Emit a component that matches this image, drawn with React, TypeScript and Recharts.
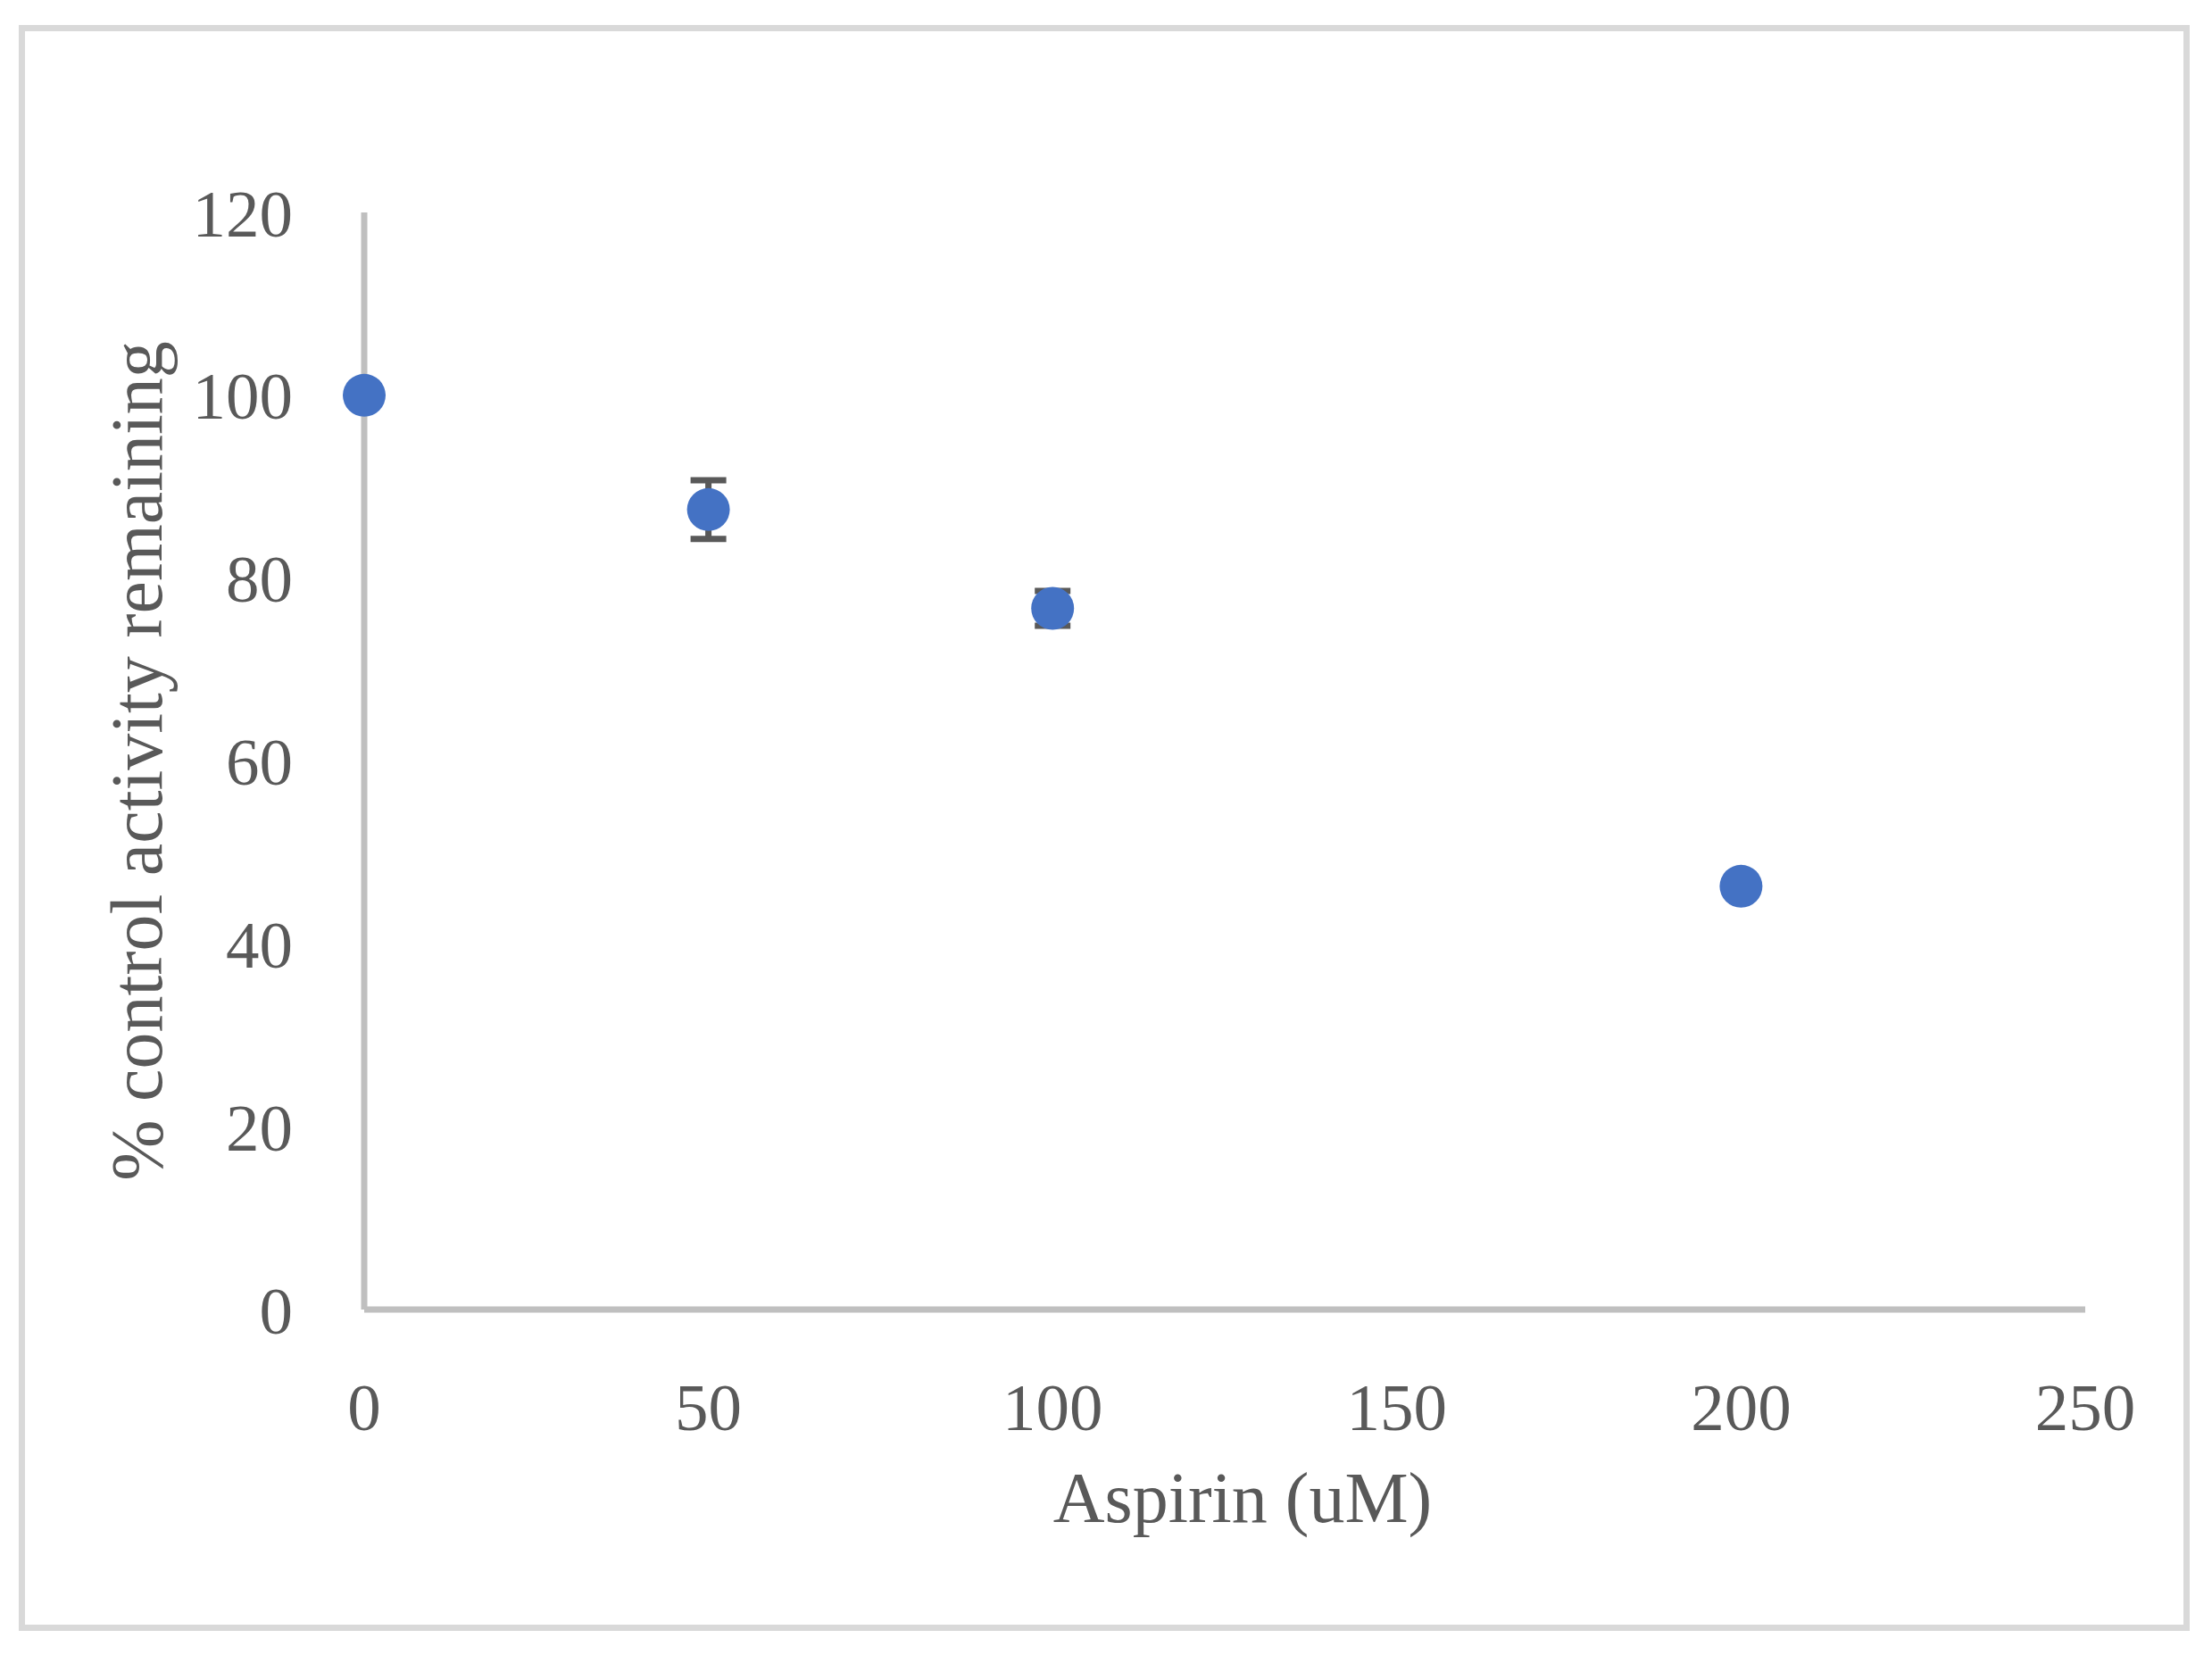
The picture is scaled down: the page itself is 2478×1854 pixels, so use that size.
import { ScatterChart, Scatter, XAxis, YAxis, ErrorBar } from 'recharts'

const aspirinUM = [0, 50, 100, 200]
const activityPct = [100, 87.5, 76.7, 46.3]
const errorPct = [0, 3.2, 1.9, 0]
const xTicks = [0, 50, 100, 150, 200, 250]
const yTicks = [0, 20, 40, 60, 80, 100, 120]

const data = aspirinUM.map((x, i) => ({ x, y: activityPct[i], err: errorPct[i] }))

const TEXT = '#595959'
const AXIS = '#bfbfbf'
const DOT = '#4472c4'
const FONT = '"Liberation Serif", "DejaVu Serif", serif'

const Dot = (props: any) => <circle cx={props.cx} cy={props.cy} r={24} fill={DOT} />

export default function App() {
  return (
    <div style={{ position: 'fixed', left: 0, top: 0, width: 2478, height: 1854, background: '#fff' }}>
      <div
        style={{
          position: 'absolute',
          left: 21,
          top: 28,
          width: 2432,
          height: 1799,
          boxSizing: 'border-box',
          border: '7px solid #d9d9d9',
        }}
      />
      <div style={{ position: 'absolute', left: 0, top: 0 }}>
        <ScatterChart width={2478} height={1854} margin={{ top: 238, right: 142, bottom: 0, left: 0 }}>
          <XAxis
            type="number"
            dataKey="x"
            domain={[0, 250]}
            ticks={xTicks}
            height={387}
            axisLine={{ stroke: AXIS, strokeWidth: 7 }}
            tickLine={false}
            tickSize={0}
            tickMargin={82}
            tick={{ fontSize: 75, fill: TEXT, fontFamily: FONT }}
            label={(p: any) => {
              const vb = p.viewBox
              return (
                <text
                  x={vb.x + vb.width / 2 + 20}
                  y={1705}
                  textAnchor="middle"
                  fontSize={80}
                  fill={TEXT}
                  fontFamily={FONT}
                >
                  Aspirin (uM)
                </text>
              )
            }}
          />
          <YAxis
            type="number"
            dataKey="y"
            domain={[0, 120]}
            ticks={yTicks}
            width={408}
            axisLine={{ stroke: AXIS, strokeWidth: 7 }}
            tickLine={false}
            tickSize={0}
            tickMargin={80}
            tick={{ fontSize: 75, fill: TEXT, fontFamily: FONT }}
            label={(p: any) => {
              const vb = p.viewBox
              const cy = vb.y + vb.height / 2
              return (
                <text
                  x={153}
                  y={cy}
                  transform={`rotate(-90 153 ${cy})`}
                  textAnchor="middle"
                  dominantBaseline="central"
                  fontSize={82}
                  fill={TEXT}
                  fontFamily={FONT}
                >
                  % control activity remaining
                </text>
              )
            }}
          />
          <Scatter data={data} shape={Dot} isAnimationActive={false}>
            <ErrorBar dataKey="err" direction="y" width={20} stroke={TEXT} strokeWidth={7} isAnimationActive={false} />
          </Scatter>
        </ScatterChart>
      </div>
    </div>
  )
}
